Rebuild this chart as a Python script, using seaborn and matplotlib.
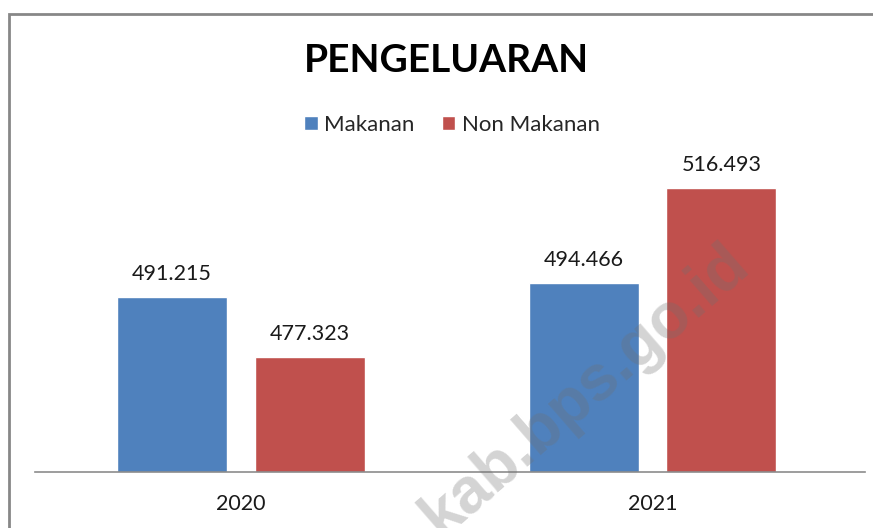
import pandas as pd
import matplotlib
matplotlib.use("Agg")
import matplotlib.pyplot as plt
from matplotlib.patches import Rectangle
import seaborn as sns

# data (values in rupiah, shown with dot separators)
years = ["2020", "2021"]
makanan = [491215, 494466]
non_makanan = [477323, 516493]
series = ["Makanan", "Non Makanan"]
colors = ["#4F81BD", "#C0504D"]

df = pd.DataFrame({
    "Tahun": years * 2,
    "Jenis": [series[0]] * 2 + [series[1]] * 2,
    "Nilai": makanan + non_makanan,
})

sns.set_theme(style="white")
plt.rcParams["font.family"] = ["Lato", "DejaVu Sans"]

fig = plt.figure(figsize=(8.73, 5.28), dpi=100)
ax = fig.add_axes([35 / 873, 56 / 528, 830 / 873, 345 / 528])

sns.barplot(data=df, x="Tahun", y="Nilai", hue="Jenis", hue_order=series,
            palette=colors, width=0.668, gap=0.2, saturation=1, ax=ax)

ax.set_ylim(450600, 530600)
ax.set_xlim(-0.5, 1.516)

for cont in ax.containers:
    ax.bar_label(cont, labels=[f"{v:,.0f}".replace(",", ".") for v in cont.datavalues],
                 padding=9, fontsize=15.5, color="#1a1a1a")

for s in ["top", "right", "left"]:
    ax.spines[s].set_visible(False)
ax.spines["bottom"].set_color("#8c8c8c")
ax.spines["bottom"].set_linewidth(1.2)
ax.set_yticks([])
ax.set_xlabel("")
ax.set_ylabel("")
ax.tick_params(axis="x", length=0, pad=16, labelsize=15.5, labelcolor="#1a1a1a")

sns.move_legend(ax, "center", bbox_to_anchor=(452 / 873, 1 - 125 / 528),
                bbox_transform=fig.transFigure, ncol=2, frameon=False, title=None,
                fontsize=16, handlelength=0.6, handleheight=0.6,
                handletextpad=0.3, columnspacing=1.2)

fig.text(446 / 873, 1 - 61 / 528, "PENGELUARAN", ha="center", va="center",
         fontsize=28, fontweight="bold", color="black")

# watermark
fig.text(585 / 873, 1 - 390 / 528, "kab.bps.go.id", ha="center", va="center",
         rotation=41, fontsize=46, fontweight="bold", color="#707070", alpha=0.3,
         family="Liberation Sans")

# chart border (only top and left are visible in the crop)
fig.add_artist(Rectangle((9 / 873, -0.1), 1.2, 0.1 + (528 - 14) / 528,
                         transform=fig.transFigure, fill=False,
                         edgecolor="#878787", linewidth=2))

fig.savefig("out.png", dpi=100)
